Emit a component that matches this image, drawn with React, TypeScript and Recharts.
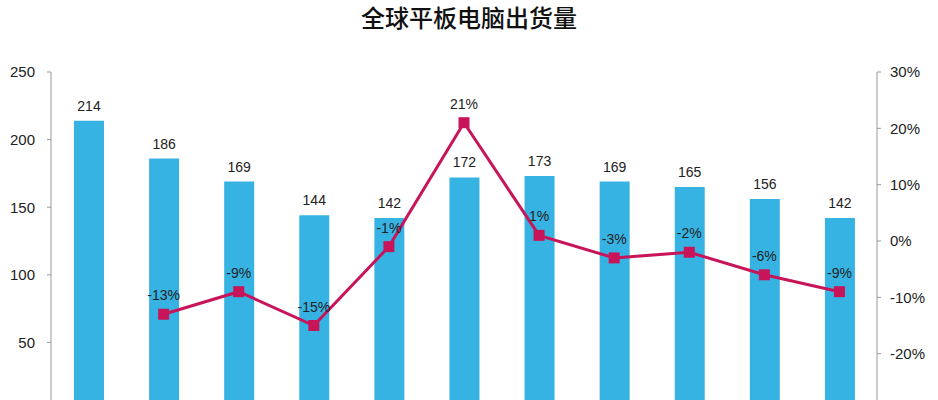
import React from 'react';
import { ComposedChart, Bar, Line, XAxis, YAxis, LabelList } from 'recharts';

const categories = ['1', '2', '3', '4', '5', '6', '7', '8', '9', '10', '11'];
const shipments = [214, 186, 169, 144, 142, 172, 173, 169, 165, 156, 142];
const growth: (number | null)[] = [null, -13, -9, -15, -1, 21, 1, -3, -2, -6, -9];
const leftTicks = [50, 100, 150, 200, 250];
const rightTicks = [-20, -10, 0, 10, 20, 30];

const data = categories.map((c, i) => ({ name: c, shipments: shipments[i], growth: growth[i] }));

const BAR = '#37B3E3';
const LINE = '#C8155A';
const FONT = '"Liberation Sans", Arial, sans-serif';

const SquareDot = (props: any) => {
  const { cx, cy, payload, index } = props;
  if (payload == null || payload.growth == null || cx == null || cy == null) return <g key={`d${index}`} />;
  return <rect key={`d${index}`} x={cx - 5.5} y={cy - 5.5} width={11} height={11} fill={LINE} />;
};

const GrowthLabel = (props: any) => {
  const { x, y, value } = props;
  if (value == null) return null;
  return (
    <text x={x} y={y - 14} textAnchor="middle" fontSize={14} fontFamily={FONT} fill="#222">
      {value}%
    </text>
  );
};

const BarLabel = (props: any) => {
  const { x, y, width, value } = props;
  return (
    <text x={x + width / 2} y={y - 10} textAnchor="middle" fontSize={14} fontFamily={FONT} fill="#222">
      {value}
    </text>
  );
};

export default function App() {
  return (
    <div style={{ position: 'absolute', left: 0, top: 0, width: 938, height: 440, background: '#fff' }}>
      <div
        style={{
          position: 'absolute',
          left: 0,
          top: 2,
          width: 938,
          textAlign: 'center',
          fontSize: 24,
          fontWeight: 500,
          fontFamily: '"Noto Sans CJK SC", sans-serif',
          color: '#111',
          lineHeight: '30px',
        }}
      >
        全球平板电脑出货量
      </div>
      <ComposedChart width={938} height={440} data={data} margin={{ top: 72, right: 0, bottom: 30, left: 0 }}>
        <XAxis dataKey="name" hide />
        <YAxis
          yAxisId="left"
          orientation="left"
          width={51}
          domain={[0, 250]}
          ticks={leftTicks}
          interval={0}
          axisLine={{ stroke: '#999' }}
          tickLine={{ stroke: '#999' }}
          tickSize={4}
          tickMargin={12}
          tick={{ fontSize: 15, fill: '#222', fontFamily: FONT }}
        />
        <YAxis
          yAxisId="right"
          orientation="right"
          width={61}
          domain={[-30, 30]}
          ticks={rightTicks}
          interval={0}
          tickFormatter={(v: number) => `${v}%`}
          axisLine={{ stroke: '#999' }}
          tickLine={{ stroke: '#999' }}
          tickSize={4}
          tickMargin={9}
          tick={{ fontSize: 15, fill: '#222', fontFamily: FONT }}
        />
        <Bar yAxisId="left" dataKey="shipments" fill={BAR} barSize={30} isAnimationActive={false}>
          <LabelList dataKey="shipments" content={BarLabel} />
        </Bar>
        <Line
          yAxisId="right"
          dataKey="growth"
          stroke={LINE}
          strokeWidth={3}
          dot={SquareDot}
          activeDot={false}
          isAnimationActive={false}
        >
          <LabelList dataKey="growth" content={GrowthLabel} />
        </Line>
      </ComposedChart>
    </div>
  );
}
